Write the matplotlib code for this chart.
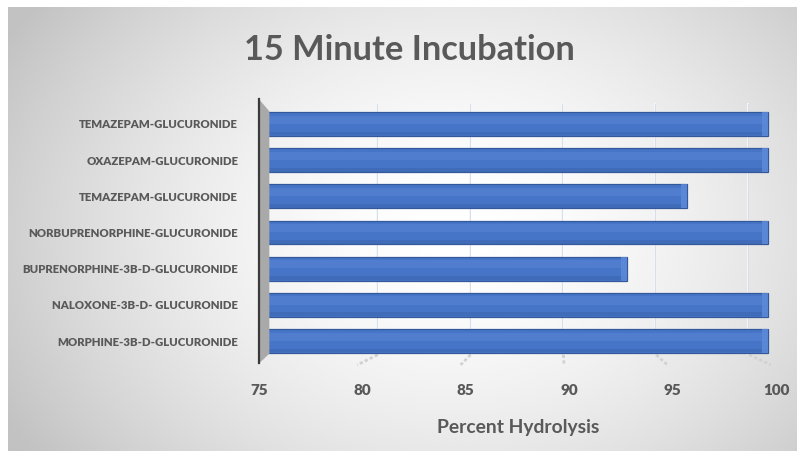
import numpy as np
import matplotlib
matplotlib.use("Agg")
import matplotlib.pyplot as plt
from matplotlib.patches import Polygon, Rectangle
from matplotlib.textpath import TextPath
from matplotlib.font_manager import FontProperties, fontManager

# Hydrolysis after a 15 minute incubation, listed bottom to top
compounds = [
    "MORPHINE-3B-D-GLUCURONIDE",
    "NALOXONE-3B-D- GLUCURONIDE",
    "BUPRENORPHINE-3B-D-GLUCURONIDE",
    "NORBUPRENORPHINE-GLUCURONIDE",
    "TEMAZEPAM-GLUCURONIDE",
    "OXAZEPAM-GLUCURONIDE",
    "TEMAZEPAM-GLUCURONIDE",
]
percent_hydrolysis = [99.6, 99.6, 92.8, 99.6, 95.7, 99.6, 99.6]
x_ticks = [75, 80, 85, 90, 95, 100]

TEXT = "#595959"
installed = {f.name for f in fontManager.ttflist}
FAMILY = next((f for f in ["Liberation Sans Narrow", "Lato", "Open Sans", "DejaVu Sans"]
               if f in installed), "DejaVu Sans")
FONT = [FAMILY, "DejaVu Sans"]


def size_for_width(text, width_px, weight="bold"):
    # font size (pt at 100 dpi) that gives the text the wanted width
    fp = FontProperties(family=FONT, weight=weight, size=10)
    w = TextPath((0, 0), text, prop=fp).get_extents().width  # in points at size 10
    return 10 * width_px / (w * 100 / 72)


W, H = 797, 451
fig = plt.figure(figsize=(W / 100, H / 100), dpi=100)
fig.patch.set_facecolor("white")

# radial grey-to-white backdrop
bg = fig.add_axes([8 / W, 0, 1 - 8 / W, 1 - 7 / H])
yy, xx = np.mgrid[0:300, 0:530]
cx, cy = 300, 150
r = np.sqrt(((xx - cx) / 330.0) ** 2 + ((yy - cy) / 250.0) ** 2)
shade = np.clip(1.0 - 0.22 * r ** 1.7, 0.76, 1.0)
bg.imshow(shade, cmap="gray", vmin=0, vmax=1, aspect="auto", interpolation="bicubic")
bg.set_axis_off()

# plot area: x 75..100 across pixels 259..776, bars spaced ~36 px
left_px, right_px, top_px, bot_px = 259, 776, 100, 360
ax = fig.add_axes([left_px / W, 1 - bot_px / H, (right_px - left_px) / W, (bot_px - top_px) / H])
ax.set_facecolor("none")
ax.set_xlim(75, 100)
ax.set_ylim(-0.525, 6.66)
for s in ax.spines.values():
    s.set_visible(False)

y = np.arange(len(compounds))


def back(v):
    # position of a value on the receding back wall
    return 76.2 + (np.asarray(v) - 75) * 0.898


# back-wall gridlines and the floor lines running forward to the ticks
for v in x_ticks[1:]:
    ax.plot([back(v), back(v)], [-0.35, 6.55], color="#f4f6fa", lw=1.4, zorder=1)
    ax.plot([back(v), back(v)], [-0.35, 6.55], color="#cdd5e2", lw=0.5, zorder=1)
    ax.plot([back(v) + 0.05, v - 0.25], [-0.38, -0.66], color="#d2d2d2", lw=2.0,
            ls=(0, (1.2, 0.8)), zorder=1, clip_on=False)

# bars with a bevelled look
h = 0.66
for yi, v in zip(y, percent_hydrolysis):
    ax.barh(yi, v - 75, left=75, height=h, color="#4675c8", edgecolor="#34589a",
            linewidth=0.9, zorder=3)
    ax.barh(yi + h * 0.18, v - 75.2, left=75.1, height=h * 0.34, color="#6f97de",
            alpha=0.25, linewidth=0, zorder=4)
    ax.barh(yi - h * 0.4, v - 75, left=75, height=h * 0.16, color="#3a62aa",
            alpha=0.5, linewidth=0, zorder=4)
    ax.add_patch(Rectangle((v - 0.3, yi - h / 2), 0.3, h, facecolor="#5d8ad8",
                           edgecolor="none", alpha=0.85, zorder=5))

# grey side wall and its dark edge
wall = Polygon([[75, 6.68], [75.5, 6.35], [75.5, -0.35], [75, -0.62]],
               closed=True, facecolor="#a9a9a9", edgecolor="none", zorder=6, clip_on=False)
ax.add_patch(wall)
ax.plot([75, 75], [-0.62, 6.68], color="#3a3a3a", lw=1.6, zorder=7, clip_on=False)

label_size = size_for_width("BUPRENORPHINE-3B-D-GLUCURONIDE", 216, weight="heavy")
ax.set_yticks(y)
ax.set_yticklabels(compounds, fontsize=label_size, fontweight="heavy", color=TEXT, family=FONT)
ax.set_xticks(x_ticks)
ax.set_xticklabels([str(t) for t in x_ticks], fontsize=11, fontweight="heavy",
                   color=TEXT, family=FONT)
ax.tick_params(axis="both", length=0)
ax.tick_params(axis="y", pad=15)
ax.tick_params(axis="x", pad=17)

fig.text(409 / W, 1 - 50 / H, "15 Minute Incubation", ha="center", va="center",
         fontsize=size_for_width("15 Minute Incubation", 327), fontweight="bold",
         color=TEXT, family=FONT)
fig.text(518 / W, 1 - 428 / H, "Percent Hydrolysis", ha="center", va="center",
         fontsize=size_for_width("Percent Hydrolysis", 160), fontweight="bold",
         color=TEXT, family=FONT)

fig.savefig("out.png", dpi=100)
